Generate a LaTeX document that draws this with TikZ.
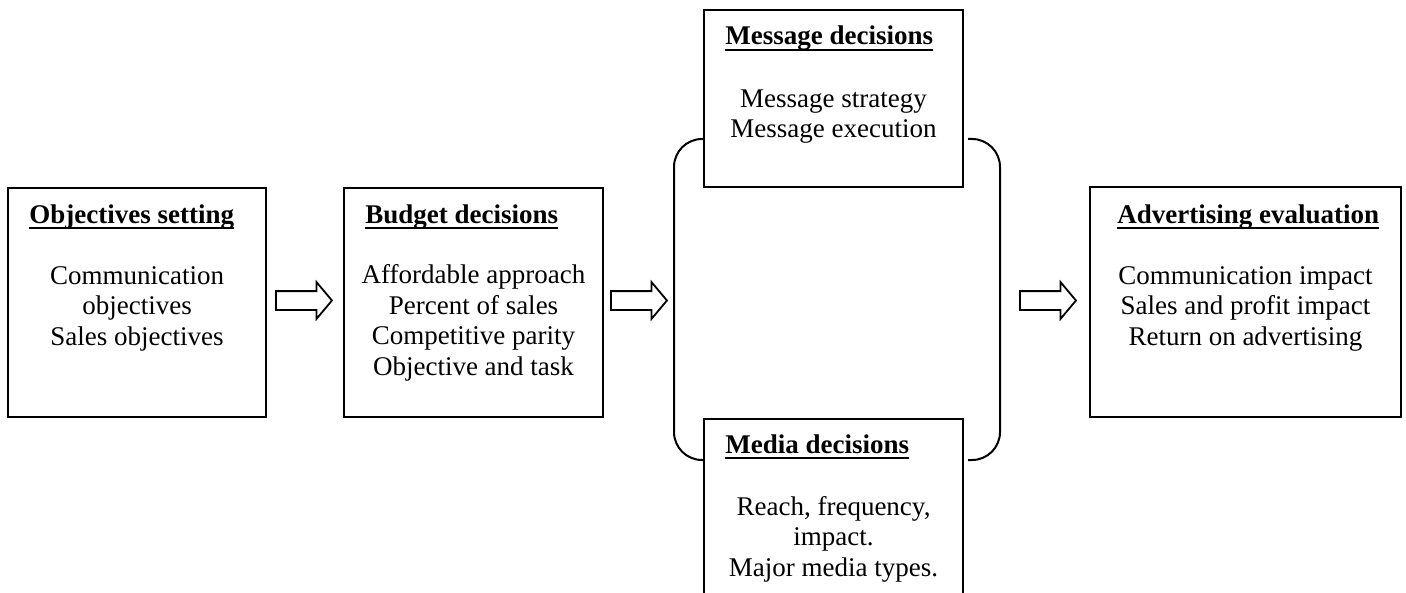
\documentclass[tikz,border=0pt]{standalone}
\usepackage{fontspec}
\setmainfont{Liberation Serif}
\usetikzlibrary{shapes.arrows}

% bold heading with a rule just under the baseline
\newcommand\headline[1]{\setbox0\hbox{\bfseries #1}\rlap{\rule[-3pt]{\wd0}{1pt}}\box0}

\begin{document}
\begin{tikzpicture}[x=0.5pt,y=-0.5pt,
  stage/.style={draw,line width=1pt,inner sep=0,fill=none},
  title/.style={anchor=base west,inner sep=0,font=\fontsize{13.5}{15.25}\selectfont},
  body/.style={anchor=north,align=center,inner sep=0,font=\fontsize{13.5}{15.25}\selectfont},
  flow/.style={draw,line width=0.9pt,shape=single arrow,inner xsep=0,inner ysep=4.25pt,
    minimum height=28pt,single arrow head extend=4.5pt,single arrow tip angle=100},
  bracket/.style={draw,line width=1pt,rounded corners=14pt}]

\useasboundingbox (0,0) rectangle (1406,593);

% objectives setting
\node[stage,minimum width=129pt,minimum height=114.5pt] (obj) at (137,302.5) {};
\node[title] (objT) at (29,223) {\headline{Objectives setting}};
\node[body] (objB) at (137,262.6) {\strut Communication\\objectives\\Sales objectives};

% budget decisions
\node[stage,minimum width=129.5pt,minimum height=114.5pt] (bud) at (473.5,302.5) {};
\node[title] (budT) at (365,223) {\headline{Budget decisions}};
\node[body] (budB) at (473.5,261.8) {\strut Affordable approach\\Percent of sales\\Competitive parity\\Objective and task};

% message decisions
\node[stage,minimum width=129.5pt,minimum height=88.5pt] (msg) at (833.5,98.5) {};
\node[title] (msgT) at (725,45) {\headline{Message decisions}};
\node[body] (msgB) at (833.5,85.7) {\strut Message strategy\\Message execution};

% media decisions (runs off the lower edge)
\node[stage,minimum width=129.5pt,minimum height=93pt] (med) at (833.5,512) {};
\node[title] (medT) at (725,453) {\headline{Media decisions}};
\node[body] (medB) at (833.5,493.7) {\strut Reach, frequency,\\impact.\\Major media types.};

% advertising evaluation
\node[stage,minimum width=155.5pt,minimum height=115pt] (eva) at (1245.5,302) {};
\node[title] (evaT) at (1117,223) {\headline{Advertising evaluation}};
\node[body] (evaB) at (1245.5,262.6) {\strut Communication impact\\Sales and profit impact\\Return on advertising};

% brackets joining message and media decisions
\coordinate (lt) at (704,139);
\coordinate (lb) at (704,460);
\coordinate (rt) at (968,139);
\coordinate (rb) at (968,460);
\draw[bracket] (lt) -- (674,139) -- (674,460) -- (lb);
\draw[bracket] (rt) -- (1000,139) -- (1000,460) -- (rb);

% block arrows between stages
\node[flow] (a1) at (300,300.5) {};
\node[flow] (a2) at (635,300.5) {};
\node[flow] (a3) at (1044,300.5) {};
\end{tikzpicture}
\end{document}
